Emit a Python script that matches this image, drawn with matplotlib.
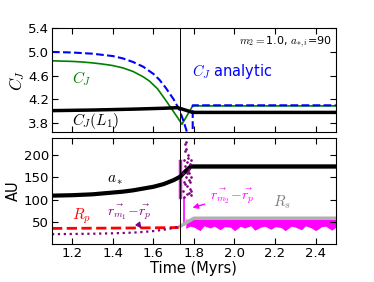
import matplotlib
matplotlib.use("Agg")
import matplotlib.pyplot as plt

plt.rcParams['mathtext.fontset'] = 'cm'

# ---- top panel: Jacobi constant ----
t_cj = [1.1, 1.15, 1.2, 1.25, 1.3, 1.35, 1.4, 1.45, 1.5, 1.55, 1.58, 1.62, 1.66,
        1.69, 1.72, 1.741, 1.794, 1.9, 2.2, 2.5]
cj_sim = [4.85, 4.845, 4.84, 4.83, 4.815, 4.795, 4.77, 4.73, 4.67, 4.58, 4.51,
          4.38, 4.19, 4.04, 3.89, 3.78, 4.09, 4.09, 4.09, 4.09]

t_an = [1.1, 1.2, 1.3, 1.35, 1.4, 1.45, 1.5, 1.55, 1.6, 1.63, 1.66, 1.7, 1.729,
        1.75, 1.77, 1.794, 1.794, 1.9, 2.2, 2.5]
cj_an = [5.0, 4.99, 4.97, 4.95, 4.93, 4.89, 4.83, 4.75, 4.63, 4.53, 4.40, 4.2,
         4.02, 3.82, 3.6, 3.6, 4.1, 4.1, 4.1, 4.1]

t_l1 = [1.1, 1.3, 1.5, 1.65, 1.72, 1.794, 2.0, 2.5]
cj_l1 = [4.01, 4.02, 4.035, 4.05, 4.06, 3.98, 3.98, 3.98]

# ---- bottom panel: distances (AU) ----
t_a = [1.1, 1.2, 1.3, 1.35, 1.4, 1.45, 1.5, 1.55, 1.6, 1.65, 1.7, 1.733, 1.76,
       1.785, 2.0, 2.5]
a_star = [109, 110, 112, 114, 116, 118, 121, 125, 129, 135, 144, 152, 165, 175,
          175, 175]

t_rp = [1.1, 1.5, 1.725]
r_p = [35, 36, 37]

t_rm1 = [1.1, 1.2, 1.3, 1.4, 1.5, 1.55, 1.6, 1.65, 1.7, 1.733]
r_m1 = [22, 22.5, 23, 24, 25.5, 27, 29, 32, 36, 40]

t_rs = [1.733, 1.8, 2.0, 2.5]
r_s = [40, 58, 58, 58]

# scattered r_m1 - r_p after the capture
t_sc = [1.745, 1.748, 1.75, 1.752, 1.755, 1.757, 1.76, 1.762, 1.765, 1.767, 1.77,
        1.772, 1.775, 1.777, 1.78, 1.782, 1.785, 1.788, 1.75, 1.758, 1.763, 1.768,
        1.773, 1.778, 1.783, 1.787, 1.756, 1.766, 1.776, 1.786]
r_sc = [120, 160, 190, 140, 175, 210, 150, 230, 185, 130, 200, 165, 115, 145, 180,
        125, 110, 150, 105, 135, 215, 160, 195, 170, 140, 120, 225, 112, 160, 190]

# r_m2 - r_p band
t_m2 = [1.76, 1.78, 1.8, 1.83, 1.85, 1.88, 1.9, 1.93, 1.95, 1.98, 2.0, 2.03, 2.05,
        2.08, 2.1, 2.13, 2.15, 2.18, 2.2, 2.23, 2.25, 2.28, 2.3, 2.33, 2.35, 2.38,
        2.4, 2.43, 2.45, 2.48, 2.5]
m2_hi = [56, 55, 56, 55, 56, 55, 56, 55, 56, 55, 56, 55, 56, 55, 56, 55, 56, 55,
         56, 55, 56, 55, 56, 55, 56, 55, 56, 55, 56, 55, 56]
m2_lo = [35, 40, 38, 30, 41, 36, 40, 32, 39, 38, 30, 40, 36, 41, 31, 38, 40, 33,
         39, 37, 30, 40, 38, 32, 41, 36, 30, 39, 40, 31, 38]

t_capture = 1.733

fig = plt.figure(figsize=(3.74, 2.82), dpi=100)
ax1 = fig.add_axes([0.139, 0.532, 0.759, 0.368])
ax2 = fig.add_axes([0.139, 0.135, 0.759, 0.377])

ax1.plot(t_cj, cj_sim, color='green', lw=1.2)
ax1.plot(t_an, cj_an, color='blue', lw=1.5, ls='--')
ax1.plot(t_l1, cj_l1, color='black', lw=2.5)
ax1.axvline(t_capture, color='black', lw=0.7)
ax1.set_xlim(1.1, 2.5)
ax1.set_ylim(3.65, 5.4)
ax1.set_yticks([3.8, 4.2, 4.6, 5.0, 5.4])
ax1.set_xticks([1.2, 1.4, 1.6, 1.8, 2.0, 2.2, 2.4])
ax1.set_xticklabels([])
ax1.set_ylabel('$C_J$', fontsize=12, labelpad=1)
ax1.text(0.985, 0.86, r'$m_2=$1.0, $a_{*,i}$=90', transform=ax1.transAxes,
         ha='right', va='center', fontsize=8)
ax1.text(1.79, 4.67, r'$C_J$ analytic', color='blue', fontsize=10.5, va='center')
ax1.text(1.2, 4.55, r'$C_J$', color='green', fontsize=11, va='center')
ax1.text(1.2, 3.84, r'$C_J(L_1)$', color='black', fontsize=11, va='center')

ax2.fill_between(t_m2, m2_lo, m2_hi, color='magenta', lw=0)
ax2.plot([1.733, 1.733], [105, 187], color='magenta', lw=2.5)
ax2.plot([1.75, 1.75], [43, 103], color='magenta', lw=1.2)
ax2.plot(t_rs, r_s, color='#b0b0b0', lw=2.5)
ax2.plot([1.785, 2.5], [173, 173], color='#b0b0b0', lw=3)
ax2.plot(t_a, a_star, color='black', lw=3)
ax2.plot(t_rp, r_p, color='red', lw=2, ls='--')
ax2.plot(t_rm1, r_m1, color='purple', lw=1.6, ls=':')
ax2.plot(t_sc, r_sc, ls='none', marker='.', ms=1.8, color='purple')
ax2.axvline(t_capture, color='black', lw=0.7)
ax2.set_xlim(1.1, 2.5)
ax2.set_ylim(0, 240)
ax2.set_yticks([50, 100, 150, 200])
ax2.set_xticks([1.2, 1.4, 1.6, 1.8, 2.0, 2.2, 2.4])
ax2.set_xlabel('Time (Myrs)', fontsize=10.5, labelpad=1)
ax2.set_ylabel('AU', fontsize=10.5, labelpad=2)
ax2.text(1.37, 146, r'$a_*$', fontsize=11, va='center')
ax2.text(1.2, 62, r'$R_p$', color='red', fontsize=11, va='center')
ax2.text(2.19, 95, r'$R_s$', color='gray', fontsize=11, va='center')
ax2.annotate(r'$\vec{r_{m_1}}\!-\!\vec{r_p}$', xy=(1.55, 30), xytext=(1.37, 72),
             color='purple', fontsize=10, va='center',
             arrowprops=dict(arrowstyle='-|>', color='purple', lw=1,
                             mutation_scale=8))
ax2.annotate(r'$\vec{r_{m_2}}\!-\!\vec{r_p}$', xy=(1.78, 80), xytext=(1.88, 108),
             color='magenta', fontsize=10, va='center',
             arrowprops=dict(arrowstyle='-|>', color='magenta', lw=1,
                             mutation_scale=8))

for ax in (ax1, ax2):
    ax.tick_params(direction='in', top=True, right=True, labelsize=9.5,
                   length=4, pad=2)

fig.savefig('out.png', dpi=100)
